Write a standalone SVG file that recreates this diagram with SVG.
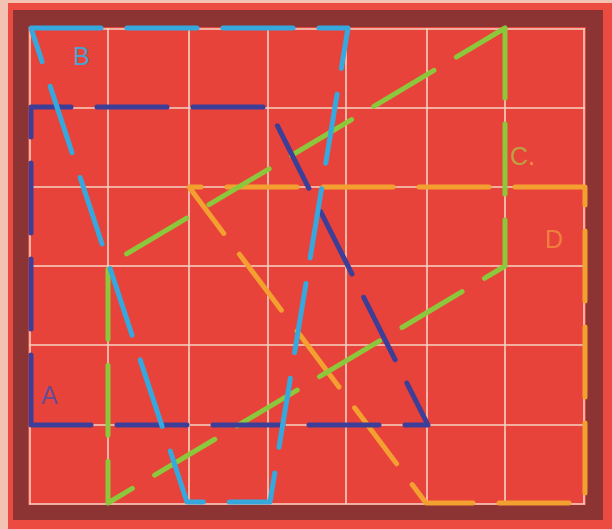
<svg xmlns="http://www.w3.org/2000/svg" width="612" height="529" viewBox="0 0 612 529">
<style>
.grid line{stroke:#f6d2c2;stroke-width:1.6}
.shape{fill:none;stroke-width:5;stroke-dasharray:70 26;stroke-linecap:round;stroke-linejoin:round}
.lbl{font-family:"Liberation Sans","DejaVu Sans",sans-serif;font-size:25px}
</style>
<rect x="0" y="0" width="612" height="529" fill="#eb4b40"/>
<rect x="0" y="0" width="8" height="529" fill="#f2c2b2"/>
<rect x="0" y="0" width="612" height="3" fill="#f2c2b2"/>
<rect x="13" y="10" width="590" height="510" fill="#8c3434"/>
<rect x="28" y="27" width="558" height="478" fill="#e8433a"/>
<g class="grid">
<line x1="30" y1="28" x2="30" y2="504"/>
<line x1="108" y1="28" x2="108" y2="504"/>
<line x1="189" y1="28" x2="189" y2="504"/>
<line x1="268" y1="28" x2="268" y2="504"/>
<line x1="346" y1="28" x2="346" y2="504"/>
<line x1="427" y1="28" x2="427" y2="504"/>
<line x1="505" y1="28" x2="505" y2="504"/>
<line x1="584" y1="28" x2="584" y2="504"/>
<line x1="29" y1="29" x2="585" y2="29"/>
<line x1="29" y1="108" x2="585" y2="108"/>
<line x1="29" y1="187" x2="585" y2="187"/>
<line x1="29" y1="266" x2="585" y2="266"/>
<line x1="29" y1="345" x2="585" y2="345"/>
<line x1="29" y1="425" x2="585" y2="425"/>
<line x1="29" y1="504" x2="585" y2="504"/>
</g>
<g id="connectors">
<g id="D"><path class="shape" stroke="#f4a030" d="M585,187 L189,187 L426,503 L585,503 Z"/></g>
<g id="C"><path class="shape" stroke="#8cc83c" d="M505,28 L505,266 L108,503 L108,265 Z"/></g>
<g id="A"><path class="shape" stroke="#3c3e98" d="M31,425 L31,107 L268,107 L428,425 Z"/></g>
<g id="B"><path class="shape" stroke="#36a8de" d="M31,28 L348,28 L270,502 L187,502 Z"/></g>
</g>
<g id="labels">
<text class="lbl" x="73" y="65" fill="#4aa2cc">B</text>
<text class="lbl" x="41" y="404" fill="#6a4c94">A</text>
<text class="lbl" x="510" y="165" fill="#bea040">C<tspan fill="#f29440">.</tspan></text>
<text class="lbl" x="545" y="248" fill="#f2903e" fill-opacity="0.8">D</text>
</g>
</svg>
